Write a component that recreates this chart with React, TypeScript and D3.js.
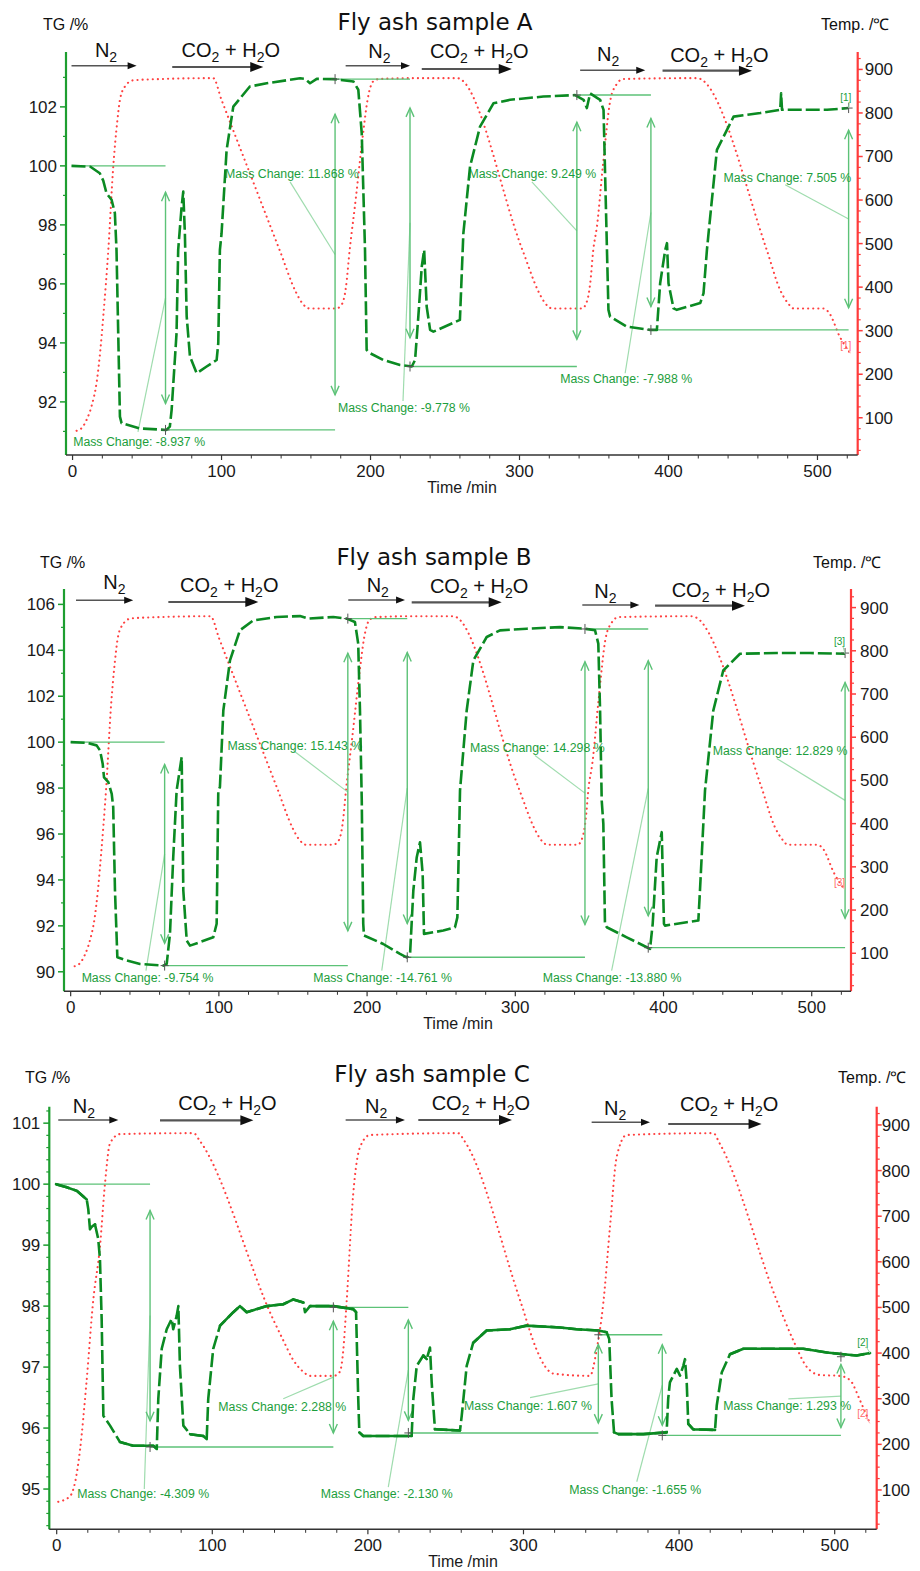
import React from 'react';
import * as d3 from 'd3';

type Pt = [number, number];
type Mass = { t: number; v0: number; v1: number; text: string; lt: number; lv: number; st: number; sv: number };
type Gas = { t0: number; t1: number; tt: number; co2: boolean };

// ticks
const timeTicks = [0, 100, 200, 300, 400, 500];
const tempTicks = [100, 200, 300, 400, 500, 600, 700, 800, 900];
const tgTicksA = [92, 94, 96, 98, 100, 102];
const tgTicksB = [90, 92, 94, 96, 98, 100, 102, 104, 106];
const tgTicksC = [95, 96, 97, 98, 99, 100, 101];

// TG curves [time min, mass %]
const tgA: Pt[] = [
  [-0.7, 100], [12, 99.97], [18.3, 99.75], [20.6, 99.5], [22.8, 99.07], [26.2, 98.85], [28.4, 98.4], [29.5, 97.15],
  [31.8, 91.5], [32.9, 91.28], [45.2, 91.1], [63, 91.05], [65.3, 91.16], [66.5, 91.73], [69.8, 94.33], [70.9, 97.15],
  [73.2, 98.62], [74.3, 99.13], [75.4, 97.7], [76.6, 94.9], [78.8, 93.54], [83.3, 92.97], [90, 93.2], [96.7, 93.42],
  [97.8, 93.99], [98.9, 97.15], [100, 97.7], [103.4, 100.54], [107.9, 102.01], [119, 102.69], [130.3, 102.8],
  [152.7, 102.97], [156, 102.95], [159.4, 102.8], [163.9, 102.95], [175, 102.94], [188.5, 102.86], [191.8, 102.58],
  [194.1, 101.1], [196.3, 97.15], [197.4, 93.76], [199.7, 93.65], [208.6, 93.42], [219.8, 93.25], [227.7, 93.2],
  [229.9, 93.42], [232.1, 94.9], [234.4, 96.59], [236, 97.15], [237.7, 95.23], [240, 94.44], [242.2, 94.38],
  [260, 94.78], [262.3, 97.7], [266.8, 99.98], [273.5, 101.33], [282.5, 102.12], [293.7, 102.24], [316, 102.35],
  [337.3, 102.4], [343, 102.24], [345.2, 101.96], [347.4, 102.46], [354.1, 102.24], [356.4, 101.9], [358.7, 97.15],
  [359.7, 95.12], [360.8, 94.89], [372, 94.55], [387.7, 94.44], [392.2, 94.44], [394.4, 96.02], [397.8, 97.15],
  [399, 97.38], [400, 96.02], [403.4, 95.17], [405.6, 95.12], [421.3, 95.35], [423.5, 95.68], [425.8, 97.15],
  [426.9, 97.72], [432.5, 100.54], [443.7, 101.67], [461.6, 101.79], [475, 101.9], [475.6, 102.46], [476.2, 101.9],
  [484, 101.9], [506.4, 101.9], [521, 101.96],
];

const tgB: Pt[] = [
  [0, 100], [10.8, 99.97], [17.5, 99.86], [19.8, 99.64], [21.6, 99.06], [22.5, 98.47], [25.4, 98.26], [27.7, 97.75],
  [28.7, 97.17], [29.9, 93.54], [31.5, 90.63], [37.8, 90.49], [46.8, 90.34], [62.5, 90.27], [64.8, 90.34], [67, 91.65],
  [69.2, 94.99], [71.5, 97.9], [74.9, 99.35], [76, 93.54], [78.3, 91.36], [80.5, 91.14], [87.2, 91.29], [96.2, 91.5],
  [98.5, 92.09], [99.6, 97.9], [100.7, 98.04], [103, 101.38], [107.5, 103.56], [114.2, 104.87], [123.2, 105.3],
  [139, 105.45], [154.7, 105.49], [160.3, 105.38], [177.2, 105.45], [186.2, 105.38], [191.8, 105.23], [194, 104.29],
  [195.2, 101.38], [196.4, 97.46], [197.4, 92.09], [197.9, 91.58], [210.9, 91.21], [222.2, 90.78], [226.7, 90.63],
  [229, 90.78], [231.2, 93.54], [233.5, 94.99], [235.7, 95.64], [237.5, 94.27], [238.4, 91.65], [244.7, 91.72],
  [251.4, 91.8], [259.3, 91.94], [260.9, 92.37], [262.7, 97.9], [267.2, 101.38], [271.7, 103.56], [280.7, 104.58],
  [289.7, 104.87], [307.7, 104.94], [330.2, 105.01], [347, 104.94], [353.8, 104.87], [356, 104.29], [357.2, 101.38],
  [358.3, 97.46], [359.4, 96.44], [360.5, 92.09], [361.7, 91.94], [375.2, 91.5], [388.7, 91.07], [390.9, 91],
  [392.7, 92.09], [395.4, 94.99], [398.8, 96.08], [400.3, 92.09], [401, 92.01], [415.6, 92.16], [423.5, 92.23],
  [424.6, 93.54], [428, 97.9], [433.6, 101.38], [440.3, 103.12], [451.6, 103.85], [476.4, 103.88], [498.9, 103.88],
  [522.5, 103.85],
];

const tgC: Pt[] = [
  [-0.4, 100], [6.4, 99.95], [12.9, 99.89], [19.3, 99.75], [20.3, 99.59], [21.4, 99.26], [22.5, 99.3], [24.6, 99.34],
  [26.7, 99.1], [27.8, 98.77], [28.9, 97.79], [30, 96.2], [34.3, 96.04], [40.7, 95.77], [49.2, 95.71], [62.1, 95.71],
  [64.3, 95.66], [65.3, 96.48], [67.5, 97.3], [70.7, 97.62], [73.9, 97.79], [74.9, 97.62], [77.1, 97.84], [78.2, 98],
  [79.2, 97.02], [81.4, 96.04], [85.7, 95.9], [94.2, 95.87], [96.4, 95.82], [97.4, 96.48], [100.6, 97.3], [105, 97.68],
  [113.5, 97.9], [117.8, 98], [122.1, 97.9], [135, 98], [145.6, 98.03], [152.1, 98.11], [158.5, 98.06], [159.6, 97.9],
  [162.8, 98], [177.8, 98], [190.6, 97.95], [192.4, 97.9], [193.8, 96.48], [194.5, 95.93], [197, 95.87],
  [220.6, 95.87], [228.1, 95.87], [229.2, 96.48], [231.4, 97.02], [235.6, 97.19], [237.8, 97.13], [239.9, 97.32],
  [241, 96.75], [243.1, 95.98], [259.2, 95.96], [260.3, 96.2], [263.5, 97.02], [267.7, 97.4], [276.3, 97.6],
  [291.3, 97.62], [302, 97.68], [323.5, 97.65], [334.2, 97.62], [348.1, 97.6], [353.5, 97.57], [355.1, 97.46],
  [356.6, 96.48], [358.2, 95.93], [361, 95.9], [377, 95.9], [392, 95.93], [393, 96.48], [394.1, 96.75], [398.5, 96.97],
  [400.6, 96.86], [402.7, 97.02], [403.8, 97.13], [404.9, 96.75], [405.9, 96.07], [409.1, 95.98], [423.1, 95.97],
  [424.2, 96.37], [427.4, 96.91], [432.7, 97.21], [441.3, 97.3], [462.7, 97.3], [479.8, 97.3], [494.9, 97.24],
  [505.5, 97.21], [514.1, 97.19], [522.7, 97.23],
];

// temperature program [time min, °C]
const tempAB: Pt[] = [
  [2.7, 70], [6, 76], [9.4, 95], [13, 130], [16.1, 180], [18.5, 250], [20.6, 332], [24, 485], [27.3, 676], [30, 780],
  [31.8, 830], [35, 860], [40.7, 875], [60, 878], [94.4, 880], [100, 830], [139, 485], [150, 388], [154, 364],
  [159, 351], [177, 351], [181, 362], [183.5, 400], [186, 485], [190, 600], [195, 753], [198, 830], [201.7, 872],
  [206, 878], [230, 880], [258, 880], [302, 485], [313, 388], [317, 364], [322, 351], [342, 351], [345.5, 370],
  [347.5, 410], [349.5, 485], [352, 540], [356, 680], [361, 830], [365, 865], [369.6, 878], [419, 880], [466, 485],
  [475, 393], [480, 364], [484, 351], [504, 351], [508, 340], [515, 286], [522, 248],
];

const tempC: Pt[] = [
  [1, 74], [8.5, 86], [12, 120], [15, 188], [19, 330], [23.5, 516], [27.8, 633], [31, 770], [34.3, 860], [40.7, 880],
  [88, 882], [92, 865], [139, 475], [145.6, 428], [152, 385], [158.5, 359], [163, 350], [178, 350], [182, 359],
  [184.2, 407], [186.4, 516], [190.6, 750], [195, 852], [201.4, 878], [258, 882], [262, 865], [297.8, 516],
  [308.5, 407], [314, 370], [319.2, 355], [342.7, 350], [347, 407], [351.3, 510], [355.6, 677], [359.9, 830],
  [366.3, 878], [422, 882], [426, 860], [462.7, 516], [473.4, 428], [482, 370], [490.5, 352], [503.4, 350],
  [509.8, 341], [516.2, 297], [522.6, 246],
];

// reference lines [t0, t1, value]
const refsA: [number, number, number][] = [
  [-0.5, 62.4, 100], [62.4, 176.2, 91.05], [176.2, 226.5, 102.94], [226.5, 338.5, 93.2], [338.5, 388.2, 102.4], [388.2, 520.9, 94.44],
];
const refsB: [number, number, number][] = [
  [0, 63.4, 100], [63.4, 187, 90.27], [187, 227.1, 105.38], [227.1, 347, 90.63], [347, 389.7, 104.93], [389.7, 522.5, 91.05],
];
const refsC: [number, number, number][] = [
  [-0.4, 60, 100], [60, 177.8, 95.69], [177.8, 226, 97.98], [226, 348.1, 95.92], [348.1, 389.2, 97.53], [389.2, 504, 95.88],
];

// mass change annotations
const massA: Mass[] = [
  { t: 62.4, v0: 100, v1: 91.05, text: '-8.937', lt: 0.4, lv: 90.5, st: 43.9, sv: 90.98 },
  { t: 176.2, v0: 91.05, v1: 102.94, text: '11.868', lt: 102.3, lv: 99.6, st: 146, sv: 99.46 },
  { t: 226.5, v0: 102.94, v1: 93.2, text: '-9.778', lt: 178.2, lv: 91.66, st: 221.8, sv: 92.03 },
  { t: 338.5, v0: 93.2, v1: 102.4, text: '9.249', lt: 265.7, lv: 99.6, st: 308.3, sv: 99.46 },
  { t: 388.2, v0: 102.4, v1: 94.44, text: '-7.988', lt: 327.3, lv: 92.63, st: 370.9, sv: 92.97 },
  { t: 520.9, v0: 94.44, v1: 101.96, text: '7.505', lt: 436.9, lv: 99.46, st: 478.3, sv: 99.36 },
];
const massB: Mass[] = [
  { t: 63.4, v0: 100, v1: 90.27, text: '-9.754', lt: 7.4, lv: 89.54, st: 50.8, sv: 90.05 },
  { t: 187, v0: 90.27, v1: 105.38, text: '15.143', lt: 105.9, lv: 99.64, st: 150.2, sv: 99.64 },
  { t: 227.1, v0: 105.38, v1: 90.63, text: '-14.761', lt: 163.7, lv: 89.54, st: 209.9, sv: 90.05 },
  { t: 347, v0: 90.63, v1: 104.93, text: '14.298', lt: 269.4, lv: 99.55, st: 313.3, sv: 99.42 },
  { t: 389.7, v0: 104.93, v1: 91.05, text: '-13.880', lt: 318.5, lv: 89.54, st: 365, sv: 90.05 },
  { t: 522.5, v0: 91.05, v1: 103.88, text: '12.829', lt: 433.2, lv: 99.45, st: 476.4, sv: 99.29 },
];
const massC: Mass[] = [
  { t: 60, v0: 100, v1: 95.69, text: '-4.309', lt: 13.2, lv: 94.85, st: 56.3, sv: 95.0 },
  { t: 177.8, v0: 95.69, v1: 97.98, text: '2.288', lt: 103.9, lv: 96.28, st: 145.6, sv: 96.48 },
  { t: 226, v0: 97.98, v1: 95.92, text: '-2.130', lt: 169.7, lv: 94.85, st: 213.1, sv: 95.03 },
  { t: 348.1, v0: 95.92, v1: 97.53, text: '1.607', lt: 261.8, lv: 96.3, st: 304.2, sv: 96.5 },
  { t: 389.2, v0: 97.53, v1: 95.88, text: '-1.655', lt: 329.4, lv: 94.92, st: 372.8, sv: 95.12 },
  { t: 504, v0: 95.88, v1: 97.17, text: '1.293', lt: 428.4, lv: 96.3, st: 470.2, sv: 96.48 },
];

// gas switching arrows (time units)
const gasA: Gas[] = [
  { t0: -0.7, t1: 43, tt: 15, co2: false }, { t0: 66.9, t1: 128, tt: 73.2, co2: true },
  { t0: 183.3, t1: 226.5, tt: 198.5, co2: false }, { t0: 234.4, t1: 294.8, tt: 240, co2: true },
  { t0: 340.7, t1: 384.4, tt: 352, co2: false }, { t0: 396, t1: 456, tt: 401.1, co2: true },
];
const gasB: Gas[] = [
  { t0: 3.6, t1: 42.2, tt: 22, co2: false }, { t0: 65.9, t1: 126.6, tt: 73.8, co2: true },
  { t0: 187.3, t1: 225.6, tt: 199.7, co2: false }, { t0: 230.1, t1: 290.8, tt: 242.4, co2: true },
  { t0: 345.2, t1: 383.7, tt: 353.3, co2: false }, { t0: 394.3, t1: 455, tt: 405.5, co2: true },
];
const gasC: Gas[] = [
  { t0: 1, t1: 39.6, tt: 10.3, co2: false }, { t0: 66.4, t1: 126.4, tt: 78.1, co2: true },
  { t0: 185.7, t1: 223.8, tt: 198.1, co2: false }, { t0: 232.4, t1: 292.6, tt: 241, co2: true },
  { t0: 343.8, t1: 381.3, tt: 351.7, co2: false }, { t0: 393, t1: 453, tt: 400.6, co2: true },
];

const FONT = '"Liberation Sans", Arial, Helvetica, sans-serif';
const TG_COLOR = '#0b8a22';
const AXIS_GREEN = '#1d9e30';
const RED = '#ff3b3b';
const ANNO = '#5cc277';
const LEADER = '#9fdcae';
const LABEL = '#1c9e3c';

const panels = [
  {
    title: 'Fly ash sample A', titleX: 435, titleY: 30, tgLab: [43, 30], tempLab: [821, 30],
    xDomain: [-4.4, 527], xRange: [66, 857.7], tgDomain: [90.2, 103.86], yRange: [455, 52], tempDomain: [14.5, 940],
    tgTicks: tgTicksA, tgMinor: 1, tg: tgA, temp: tempAB, refs: refsA, mass: massA, gas: gasA, solidFlat: false,
    gasY: [[65.7, 56.5], [67, 57], [65.7, 58], [69, 57.5], [70.3, 60.5], [70.7, 61.5]],
    tag: '[1]', tagG: [515.3, 102.2], tagR: [515.3, 257.7], rGap: 7, timeX: 462,
  },
  {
    title: 'Fly ash sample B', titleX: 434, titleY: 565, tgLab: [40, 568], tempLab: [813, 568],
    xDomain: [-4.5, 526.5], xRange: [64, 851], tgDomain: [89.15, 106.67], yRange: [991.3, 589], tempDomain: [12, 943],
    tgTicks: tgTicksB, tgMinor: 1, tg: tgB, temp: tempAB, refs: refsB, mass: massB, gas: gasB, solidFlat: false,
    gasY: [[600.3, 588.5], [602, 591.5], [600, 591.5], [602.3, 593], [605, 597.5], [605.7, 597]],
    tag: '[3]', tagG: [515, 104.21], tagR: [515, 256.5], rGap: 9, timeX: 458,
  },
  {
    title: 'Fly ash sample C', titleX: 432, titleY: 1081.7, tgLab: [25, 1083.3], tempLab: [838, 1083.3],
    xDomain: [-4.75, 527], xRange: [49.3, 876.7], tgDomain: [94.34, 101.27], yRange: [1529.3, 1106.7], tempDomain: [13.8, 940],
    tgTicks: tgTicksC, tgMinor: 0.2, tg: tgC, temp: tempC, refs: refsC, mass: massC, gas: gasC, solidFlat: true,
    gasY: [[1120, 1113], [1120.3, 1110], [1120, 1113], [1120, 1110], [1122.3, 1115], [1124, 1111]],
    tag: '[2]', tagG: [514.5, 97.35], tagR: [514.5, 260], rGap: 5, timeX: 463,
  },
];

const Panel = ({ p }: { p: any }) => {
  const x = d3.scaleLinear().domain(p.xDomain).range(p.xRange);
  const y = d3.scaleLinear().domain(p.tgDomain).range(p.yRange);
  const yT = d3.scaleLinear().domain(p.tempDomain).range(p.yRange);
  const [xl, xr] = p.xRange;
  const [yb, yt] = p.yRange;

  const tgPath = d3.line<Pt>().x(d => x(d[0])).y(d => y(d[1]))(p.tg) || '';
  const tempPath = d3.line<Pt>().x(d => x(d[0])).y(d => yT(d[1])).curve(d3.curveMonotoneX)(p.temp) || '';

  // flat stretches of the noisy TG trace look solid in sample C
  let flatPath = '';
  if (p.solidFlat) {
    for (let i = 1; i < p.tg.length; i++) {
      const x0 = x(p.tg[i - 1][0]), y0 = y(p.tg[i - 1][1]);
      const x1 = x(p.tg[i][0]), y1 = y(p.tg[i][1]);
      if (Math.abs(y1 - y0) <= 1.2 * Math.abs(x1 - x0)) flatPath += `M${x0},${y0}L${x1},${y1}`;
    }
  }

  const tgMinor = d3.range(Math.ceil(p.tgDomain[0] / p.tgMinor), Math.floor(p.tgDomain[1] / p.tgMinor) + 1)
    .map((k: number) => Math.round(k * p.tgMinor * 10) / 10)
    .filter((v: number) => !p.tgTicks.some((t: number) => Math.abs(t - v) < 1e-6));
  const tempMinor = d3.range(25, p.tempDomain[1], 25).filter((v: number) => v % 100 !== 0);
  const timeMinor = d3.range(20, p.xDomain[1], 20).filter((v: number) => v % 100 !== 0);

  const lastTg = p.tg[p.tg.length - 1];
  const lastTemp = p.temp[p.temp.length - 1];

  return (
    <g>
      {/* titles */}
      <text x={p.titleX} y={p.titleY} textAnchor="middle" fontFamily='"DejaVu Sans", Verdana, sans-serif' fontSize={23} fill="#111">{p.title}</text>
      <text x={p.tgLab[0]} y={p.tgLab[1]} fontFamily={FONT} fontSize={16} fill="#111">TG /%</text>
      <text x={p.tempLab[0]} y={p.tempLab[1]} fontFamily={FONT} fontSize={16} fill="#111">Temp. /℃</text>

      {/* gas arrows */}
      {p.gas.map((g: Gas, i: number) => {
        const [ay, ty] = p.gasY[i];
        const xa = x(g.t0), xb = x(g.t1);
        const hl = g.co2 ? 13 : 9, hw = g.co2 ? 5 : 3.5;
        return (
          <g key={'g' + i}>
            <line x1={xa} x2={xb - hl + 1} y1={ay} y2={ay} stroke="#555" strokeWidth={g.co2 ? 2.2 : 1.6} />
            <path d={`M${xb},${ay}L${xb - hl},${ay - hw}L${xb - hl},${ay + hw}Z`} fill="#111" />
            {g.co2 ? (
              <text x={x(g.tt)} y={ty} fontFamily={FONT} fontSize={20} fill="#111">
                CO<tspan dy={5} fontSize={14}>2</tspan><tspan dy={-5}>{' + H'}</tspan><tspan dy={5} fontSize={14}>2</tspan><tspan dy={-5}>O</tspan>
              </text>
            ) : (
              <text x={x(g.tt)} y={ty} fontFamily={FONT} fontSize={20} fill="#111">
                N<tspan dy={5} fontSize={14}>2</tspan>
              </text>
            )}
          </g>
        );
      })}

      {/* temperature curve */}
      <path d={tempPath} fill="none" stroke="#ff4040" strokeWidth={2.1} strokeDasharray="0.1 5" strokeLinecap="round" />

      {/* reference lines */}
      {p.refs.map((r: [number, number, number], i: number) => (
        <line key={'r' + i} x1={x(r[0])} x2={x(r[1])} y1={y(r[2])} y2={y(r[2])} stroke={ANNO} strokeWidth={1.4} />
      ))}

      {/* mass change arrows + labels */}
      {p.mass.map((m: Mass, i: number) => {
        const d = Math.abs(m.v1 - m.v0) * 0.1;
        const hi = Math.max(m.v0, m.v1) - d, lo = Math.min(m.v0, m.v1) + d;
        const cx = x(m.t), ya = y(hi), yz = y(lo);
        const mid = (ya + yz) / 2;
        return (
          <g key={'m' + i}>
            <line x1={x(m.st)} y1={y(m.sv)} x2={cx} y2={mid} stroke={LEADER} strokeWidth={1.2} />
            <line x1={cx} x2={cx} y1={ya} y2={yz} stroke={ANNO} strokeWidth={1.4} />
            <path d={`M${cx - 4},${ya + 9}L${cx},${ya}L${cx + 4},${ya + 9}`} fill="none" stroke={ANNO} strokeWidth={1.4} />
            <path d={`M${cx - 4},${yz - 9}L${cx},${yz}L${cx + 4},${yz - 9}`} fill="none" stroke={ANNO} strokeWidth={1.4} />
            <text x={x(m.lt)} y={y(m.lv)} fontFamily={FONT} fontSize={12.3} fill={LABEL}>{`Mass Change: ${m.text} %`}</text>
          </g>
        );
      })}

      {/* TG curve */}
      <path d={tgPath} fill="none" stroke={TG_COLOR} strokeWidth={2.6} strokeDasharray="14 4" strokeLinejoin="round" />
      {flatPath && <path d={flatPath} fill="none" stroke={TG_COLOR} strokeWidth={2.6} strokeLinecap="round" />}

      {/* markers */}
      {p.mass.map((m: Mass, i: number) => {
        const cx = x(m.t), cy = y(m.v1);
        return <path key={'k' + i} d={`M${cx - 4},${cy}H${cx + 4}M${cx},${cy - 5}V${cy + 5}`} stroke="#555" strokeWidth={1} />;
      })}

      {/* end tags */}
      <text x={x(p.tagG[0])} y={y(p.tagG[1])} fontFamily={FONT} fontSize={10} fill={LABEL}>{p.tag}</text>
      <line x1={x(p.tagG[0]) + 9} y1={y(p.tagG[1]) + 1} x2={x(lastTg[0])} y2={y(lastTg[1])} stroke={LEADER} strokeWidth={1} />
      <text x={x(p.tagR[0])} y={yT(p.tagR[1])} fontFamily={FONT} fontSize={10} fill="#ff6a6a">{p.tag}</text>
      <line x1={x(p.tagR[0]) + 9} y1={yT(p.tagR[1]) + 1} x2={x(lastTemp[0])} y2={yT(lastTemp[1])} stroke="#ffb0b0" strokeWidth={1} />

      {/* left axis */}
      <line x1={xl} x2={xl} y1={yb} y2={yt} stroke={AXIS_GREEN} strokeWidth={2.2} />
      {p.tgTicks.map((v: number) => (
        <g key={'lt' + v}>
          <line x1={xl - 6} x2={xl} y1={y(v)} y2={y(v)} stroke={AXIS_GREEN} strokeWidth={1.5} />
          <text x={xl - 9} y={y(v)} dy="0.35em" textAnchor="end" fontFamily={FONT} fontSize={17} fill="#1a1a1a">{v}</text>
        </g>
      ))}
      {tgMinor.map((v: number) => (
        <line key={'lm' + v} x1={xl - 3} x2={xl} y1={y(v)} y2={y(v)} stroke={AXIS_GREEN} strokeWidth={1.2} />
      ))}

      {/* right axis */}
      <line x1={xr} x2={xr} y1={yb} y2={yt} stroke={RED} strokeWidth={2.2} />
      {tempTicks.map(v => (
        <g key={'rt' + v}>
          <line x1={xr} x2={xr + 5} y1={yT(v)} y2={yT(v)} stroke={RED} strokeWidth={1.5} />
          <text x={xr + p.rGap} y={yT(v)} dy="0.35em" fontFamily={FONT} fontSize={17} fill="#1a1a1a">{v}</text>
        </g>
      ))}
      {tempMinor.map((v: number) => (
        <line key={'rm' + v} x1={xr} x2={xr + 3} y1={yT(v)} y2={yT(v)} stroke={RED} strokeWidth={1.2} />
      ))}

      {/* bottom axis */}
      <line x1={xl} x2={xr} y1={yb} y2={yb} stroke="#333" strokeWidth={1.4} />
      {timeTicks.map(v => (
        <g key={'bt' + v}>
          <line x1={x(v)} x2={x(v)} y1={yb} y2={yb + 5} stroke="#333" strokeWidth={1.2} />
          <text x={x(v)} y={yb + 21.5} textAnchor="middle" fontFamily={FONT} fontSize={17} fill="#1a1a1a">{v}</text>
        </g>
      ))}
      {timeMinor.map((v: number) => (
        <line key={'bm' + v} x1={x(v)} x2={x(v)} y1={yb} y2={yb + 3.5} stroke="#333" strokeWidth={1} />
      ))}
      <text x={p.timeX} y={yb + 37.5} textAnchor="middle" fontFamily={FONT} fontSize={16} fill="#1a1a1a">Time /min</text>
    </g>
  );
};

const App = () => (
  <svg width={920} height={1571} style={{ position: 'absolute', left: 0, top: 0, background: '#fff' }}>
    <rect width={920} height={1571} fill="#fff" />
    {panels.map((p, i) => <Panel key={i} p={p} />)}
  </svg>
);

export default App;
